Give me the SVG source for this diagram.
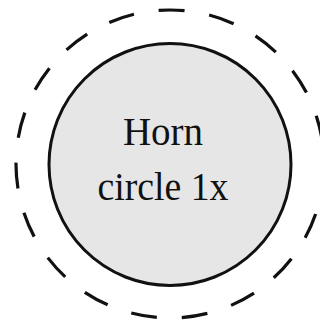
<svg xmlns="http://www.w3.org/2000/svg" width="320" height="321" viewBox="0 0 320 321">
<style>
.outer{fill:none;stroke:#111;stroke-width:3.2;stroke-dasharray:26 25}
.inner{fill:#e6e6e6;stroke:#111;stroke-width:3}
.lbl{font-family:"Liberation Serif","DejaVu Serif",serif;font-size:39px;fill:#111;text-anchor:middle}
</style>
<rect width="320" height="321" fill="#fff"/>
<g id="horn-outer">
<circle class="outer" cx="170" cy="164" r="154"/>
</g>
<g id="horn-circle">
<circle class="inner" cx="170" cy="164.5" r="121"/>
<text class="lbl" x="163" y="145">Horn</text>
<text class="lbl" x="163" y="200" textLength="131" lengthAdjust="spacingAndGlyphs">circle 1x</text>
</g>
</svg>
